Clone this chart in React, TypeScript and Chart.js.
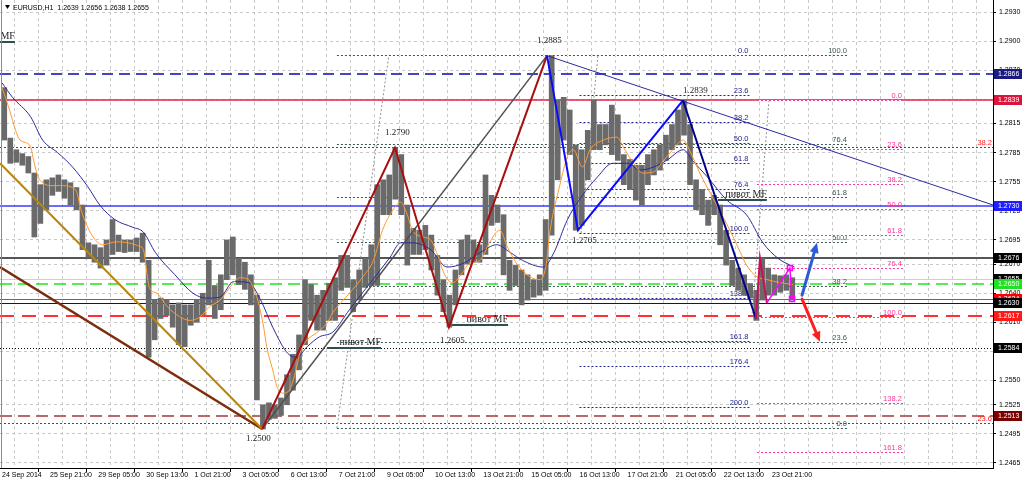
import React, { useEffect, useRef } from "react";
import { Chart, registerables } from "chart.js";

Chart.register(...registerables);

const SANS = "'Liberation Sans', Arial, sans-serif";
const SERIF = "'Liberation Serif', 'DejaVu Serif', serif";

const headerText = "EURUSD,H1  1.2639 1.2656 1.2638 1.2655";

// time axis (bar index; one bar = 1 hour)
const xTickLabels = [
  "24 Sep 2014", "25 Sep 21:00", "29 Sep 05:00", "30 Sep 13:00", "1 Oct 21:00", "3 Oct 05:00",
  "6 Oct 13:00", "7 Oct 21:00", "9 Oct 05:00", "10 Oct 13:00", "13 Oct 21:00", "15 Oct 05:00",
  "16 Oct 13:00", "17 Oct 21:00", "21 Oct 05:00", "22 Oct 13:00", "23 Oct 21:00",
];
const xGridStep = 16;
const xGridCount = 42;
const X_MIN = -1.33;
const X_MAX = 658.96;

// price axis
const yTickValues = [
  1.293, 1.29, 1.287, 1.284, 1.2815, 1.2785, 1.2755, 1.2725, 1.2695, 1.267, 1.264, 1.261,
  1.258, 1.255, 1.2525, 1.2495, 1.2465,
];
const Y_MIN = 1.24598;
const Y_MAX = 1.29424;

// price bars, 4-hour groups (high / low)
const barHigh = [
  1.2852, 1.28, 1.2788, 1.2784, 1.2781, 1.2764, 1.2752, 1.2757, 1.2759, 1.2762,
  1.2757, 1.2754, 1.2749, 1.2731, 1.2692, 1.269, 1.2687, 1.2695, 1.2716, 1.27,
  1.2695, 1.2695, 1.2697, 1.2702, 1.2674, 1.2633, 1.2635, 1.2633, 1.2628, 1.263,
  1.2628, 1.2628, 1.2633, 1.264, 1.2674, 1.2648, 1.2659, 1.2695, 1.2698, 1.2676,
  1.2672, 1.2659, 1.2638, 1.2525, 1.2527, 1.2525, 1.2532, 1.2556, 1.2577, 1.2597,
  1.2654, 1.2649, 1.2638, 1.2643, 1.265, 1.2656, 1.2679, 1.2679, 1.2654, 1.2664,
  1.2676, 1.269, 1.2752, 1.2757, 1.2762, 1.279, 1.2783, 1.2731, 1.2707, 1.2705,
  1.271, 1.27, 1.2679, 1.2654, 1.2638, 1.2664, 1.2695, 1.27, 1.2695, 1.269,
  1.2762, 1.2741, 1.2731, 1.2721, 1.2674, 1.2669, 1.2664, 1.2659, 1.2654, 1.2659,
  1.2716, 1.2885, 1.2839, 1.2842, 1.2829, 1.2793, 1.2788, 1.2808, 1.2839, 1.2814,
  1.2814, 1.2834, 1.2824, 1.2783, 1.2778, 1.2772, 1.2772, 1.2783, 1.2788, 1.2793,
  1.2803, 1.2814, 1.2829, 1.2839, 1.2814, 1.2757, 1.2747, 1.2736, 1.2741, 1.2731,
  1.2705, 1.2674, 1.2666, 1.2659, 1.265, 1.2643, 1.2676, 1.2666, 1.2659, 1.2658,
  1.2659, 1.2656,
];
const barLow = [
  1.2798, 1.2774, 1.2775, 1.2772, 1.2764, 1.2698, 1.2712, 1.2726, 1.2741, 1.2745,
  1.2738, 1.2731, 1.2726, 1.2685, 1.2677, 1.2672, 1.2666, 1.2669, 1.268, 1.2683,
  1.2682, 1.2683, 1.2683, 1.2672, 1.2574, 1.2592, 1.2614, 1.2617, 1.2605, 1.2587,
  1.2585, 1.2607, 1.261, 1.2618, 1.2628, 1.2614, 1.2623, 1.2654, 1.2659, 1.2649,
  1.2644, 1.2628, 1.253, 1.25, 1.251, 1.2511, 1.2514, 1.2525, 1.254, 1.2561,
  1.2587, 1.2612, 1.2602, 1.2602, 1.2612, 1.2612, 1.2643, 1.2646, 1.2621, 1.2633,
  1.2646, 1.2648, 1.2648, 1.2721, 1.2721, 1.2737, 1.2721, 1.2669, 1.268, 1.268,
  1.2685, 1.2664, 1.2638, 1.2621, 1.2605, 1.2628, 1.2659, 1.267, 1.2672, 1.2672,
  1.268, 1.271, 1.2713, 1.2659, 1.2643, 1.2648, 1.2628, 1.2633, 1.2636, 1.2638,
  1.2643, 1.27, 1.2757, 1.2798, 1.2783, 1.2705, 1.271, 1.2757, 1.2788, 1.2788,
  1.2793, 1.2783, 1.2777, 1.2752, 1.2747, 1.2736, 1.2731, 1.2752, 1.2762, 1.2767,
  1.2777, 1.2788, 1.2793, 1.2803, 1.2752, 1.2726, 1.2721, 1.271, 1.2721, 1.269,
  1.2669, 1.2648, 1.2643, 1.2638, 1.2635, 1.2612, 1.2633, 1.2638, 1.2638, 1.2641,
  1.2643, 1.2633,
];
const barsPerGroup = 4;

// moving averages
const fastMaIdx = [0, 5, 9, 12, 19, 21, 24, 27, 32, 39, 47, 50, 52, 57, 61, 67, 76, 92, 94, 98, 103, 110, 118, 125, 132, 138, 145, 154, 158, 164, 167, 170, 174, 176, 180, 183, 187, 191, 195, 198, 203, 209, 216, 220, 231, 240, 247, 253, 260, 265, 269, 273, 280, 285, 289, 295, 300, 306, 311, 318, 324, 331, 336, 342, 351, 358, 362, 364, 371, 376, 380, 386, 391, 400, 409, 413, 420, 426, 433, 440, 446, 453, 457, 464, 471, 477, 484, 491, 495, 502, 509, 517, 526];
const fastMaVal = [1.2852, 1.2829, 1.2808, 1.2798, 1.2791, 1.2777, 1.276, 1.2754, 1.2751, 1.2751, 1.2749, 1.2743, 1.2729, 1.2708, 1.2697, 1.269, 1.2693, 1.2688, 1.2685, 1.2646, 1.264, 1.2626, 1.2616, 1.2612, 1.2616, 1.2626, 1.2633, 1.2651, 1.2656, 1.2654, 1.2646, 1.2633, 1.2605, 1.2585, 1.2561, 1.2543, 1.2537, 1.254, 1.2558, 1.2578, 1.2592, 1.2599, 1.2609, 1.262, 1.264, 1.2657, 1.2674, 1.2705, 1.2726, 1.2734, 1.2723, 1.2705, 1.2698, 1.2695, 1.2682, 1.2657, 1.2651, 1.2661, 1.2671, 1.2674, 1.2692, 1.2705, 1.2688, 1.2671, 1.2657, 1.2654, 1.2671, 1.27, 1.2752, 1.2781, 1.2788, 1.277, 1.2788, 1.2798, 1.2801, 1.2791, 1.2774, 1.2764, 1.2765, 1.2777, 1.2788, 1.2798, 1.2788, 1.2764, 1.2743, 1.2726, 1.2705, 1.2682, 1.2669, 1.2657, 1.2654, 1.2651, 1.2649];
const slowMaIdx = [0, 7, 19, 27, 37, 47, 57, 65, 75, 87, 94, 102, 115, 127, 136, 145, 154, 164, 172, 180, 190, 196, 203, 211, 220, 231, 245, 258, 265, 273, 285, 296, 307, 318, 329, 338, 346, 360, 367, 376, 385, 396, 406, 416, 424, 433, 442, 453, 459, 469, 482, 495, 506, 516, 524, 527];
const slowMaVal = [1.2857, 1.2842, 1.2822, 1.2798, 1.2785, 1.277, 1.275, 1.2731, 1.2716, 1.2708, 1.2703, 1.2682, 1.2659, 1.264, 1.2635, 1.2636, 1.2652, 1.2651, 1.2633, 1.2605, 1.2578, 1.2574, 1.2585, 1.2595, 1.26, 1.2623, 1.2651, 1.2677, 1.2692, 1.2692, 1.2685, 1.2667, 1.2671, 1.2682, 1.269, 1.2682, 1.2674, 1.2667, 1.2682, 1.2716, 1.2739, 1.276, 1.2774, 1.2774, 1.2767, 1.277, 1.2777, 1.2788, 1.2777, 1.276, 1.2736, 1.2721, 1.2692, 1.2676, 1.2669, 1.2667];

// zigzag / trend lines (bar index, price)
const goldLineIdx = [-1.33, 173];
const goldLineVal = [1.2774, 1.25];
const brownLineIdx = [-1.33, 173];
const brownLineVal = [1.2667, 1.25];
const redZigIdx = [173, 261.3, 297.2, 362.4];
const redZigVal = [1.25, 1.279, 1.2605, 1.2885];
const grayLineIdx = [173, 362.4];
const grayLineVal = [1.25, 1.2885];
const blueZigIdx = [362.4, 383.0, 452.8];
const blueZigVal = [1.2885, 1.2705, 1.2839];
const navyZigIdx = [452.8, 501.3];
const navyZigVal = [1.2839, 1.2614];
const trendIdx = [362.4, 659];
const trendVal = [1.2885, 1.2731];
const crimsonZigIdx = [501.3, 504.0, 508.6];
const crimsonZigVal = [1.2614, 1.2676, 1.263];
const magentaZigIdx = [508.6, 523.9, 525.3];
const magentaZigVal = [1.263, 1.2666, 1.2634];

// horizontal levels
const hLevels = [1.2866, 1.2839, 1.273, 1.2676, 1.2655, 1.265, 1.2634, 1.263, 1.2617, 1.2584, 1.2513];
const hLineColors = ["#4444c4", "#e0204a", "#3a3aff", "#555555", "#cfcfcf", "#1ee61e", "#ff2a2a", "#1a1a1a", "#ff3030", "#000000", "#b86a6a"];
const hLineWidths = [2, 1.5, 1.5, 2, 1, 1.5, 1, 1, 2, 1, 2];
const hLineDash = [[11, 6], [], [], [], [], [12, 6], [], [], [14, 8], [1, 2], [12, 6]];
const hLabelBg = ["#1a1a80", "#dc143c", "#1e1eff", "#000000", "#000000", "#22e022", "#ff0000", "#000000", "#ff1a1a", "#000000", "#7a0000"];

// red fibo levels running across the chart
const redFibLabels = ["38.2", "23.6"];
const redFibVals = [1.2791, 1.2506];

// navy fibo
const navyFibLabels = ["0.0", "23.6", "38.2", "50.0", "61.8", "76.4", "100.0", "138.2", "161.8", "176.4", "200.0"];
const navyFibVals = [1.2886, 1.2844, 1.2817, 1.2795, 1.2774, 1.2748, 1.2702, 1.2635, 1.2591, 1.2565, 1.2523];
const navyFibSpan = [384, 497];
const navyFibBase = [[385, 1.2702], [396.3, 1.2886]];

// gray fibo
const grayFibLabels = ["0.0", "23.6", "38.2", "50.0", "61.8", "76.4", "100.0"];
const grayFibVals = [1.2501, 1.259, 1.2647, 1.2693, 1.2739, 1.2794, 1.2886];
const grayFibSpan = [222.7, 562.5];
const grayFibBase = [[222.7, 1.2501], [257.3, 1.2886]];

// pink fibo
const pinkFibLabels = ["0.0", "23.6", "38.2", "50.0", "61.8", "76.4", "100.0", "138.2", "161.8"];
const pinkFibVals = [1.2839, 1.2789, 1.2753, 1.2727, 1.27, 1.2666, 1.2616, 1.2527, 1.2476];
const pinkFibSpan = [502, 599];
const pinkFibBase = [[510, 1.2839], [498.7, 1.2616]];

// "пивот MF" markers
const pivotText = "пивот MF";
const pivotStartIdx = [-30, 216.1, 296.5, 476.1];
const pivotEndIdx = [8.6, 252.0, 336.5, 508.6];
const pivotVal = [1.2899, 1.2584, 1.2607, 1.2736];

// swing price texts
const swingTexts = ["1.2885", "1.2839", "1.2790", "1.2705", "1.2605", "1.2500"];
const swingIdx = [355.7, 452.8, 254.7, 379.0, 291.2, 162.2];
const swingVal = [1.2898, 1.2846, 1.2803, 1.2692, 1.2589, 1.2488];

// arrows
const arrowTailIdx = [532, 532];
const arrowTailVal = [1.2638, 1.2634];
const arrowTipIdx = [541.9, 543.9];
const arrowTipVal = [1.2692, 1.259];
const arrowColors = ["#2d5bd6", "#ff1f1f"];

function pts(idx: number[], vals: number[]) {
  return idx.map((x, k) => ({ x, y: vals[k] }));
}

function hl(ctx: CanvasRenderingContext2D, x1: number, x2: number, y: number, color: string, width: number, dash: number[], backing: boolean) {
  const yy = Math.round(width) % 2 === 1 ? Math.round(y) + 0.5 : Math.round(y);
  if (backing) {
    ctx.setLineDash([]);
    ctx.strokeStyle = "#ffffff";
    ctx.lineWidth = width;
    ctx.beginPath();
    ctx.moveTo(x1, yy);
    ctx.lineTo(x2, yy);
    ctx.stroke();
  }
  ctx.setLineDash(dash);
  ctx.strokeStyle = color;
  ctx.lineWidth = width;
  ctx.beginPath();
  ctx.moveTo(x1, yy);
  ctx.lineTo(x2, yy);
  ctx.stroke();
  ctx.setLineDash([]);
}

const objectsPlugin = {
  id: "mt4objects",
  beforeDatasetsDraw(chart: any) {
    const { ctx, chartArea: a } = chart;
    const X = (v: number) => chart.scales.x.getPixelForValue(v);
    const Y = (v: number) => chart.scales.y.getPixelForValue(v);
    ctx.save();
    ctx.beginPath();
    ctx.rect(a.left, a.top, a.right - a.left, a.bottom - a.top);
    ctx.clip();

    hLevels.forEach((v, k) => hl(ctx, a.left, a.right, Y(v), hLineColors[k], hLineWidths[k], hLineDash[k], false));
    ctx.font = `7.5px ${SANS}`;
    redFibVals.forEach((v, k) => {
      hl(ctx, a.left, a.right, Y(v), "#ff0000", 1, [2, 2], false);
      ctx.fillStyle = "#ff2020";
      ctx.textAlign = "right";
      ctx.fillText(redFibLabels[k], a.right - 1, Y(v) - 2);
    });

    const fib = (labels: string[], vals: number[], span: number[], base: number[][], color: string) => {
      const x1 = X(span[0]);
      const x2 = X(span[1]);
      ctx.strokeStyle = "#909090";
      ctx.lineWidth = 1;
      ctx.setLineDash([2, 2]);
      ctx.beginPath();
      ctx.moveTo(X(base[0][0]), Y(base[0][1]));
      ctx.lineTo(X(base[1][0]), Y(base[1][1]));
      ctx.stroke();
      ctx.setLineDash([]);
      vals.forEach((v, k) => {
        hl(ctx, x1, x2, Y(v), color, 1, [2, 2], true);
        ctx.fillStyle = color;
        ctx.textAlign = "right";
        ctx.font = `7.5px ${SANS}`;
        ctx.fillText(labels[k], x2 - 1, Y(v) - 2);
      });
    };
    fib(navyFibLabels, navyFibVals, navyFibSpan, navyFibBase, "#22228c");
    fib(grayFibLabels, grayFibVals, grayFibSpan, grayFibBase, "#3d5656");
    fib(pinkFibLabels, pinkFibVals, pinkFibSpan, pinkFibBase, "#ff3399");

    pivotVal.forEach((v, k) => {
      const y = Math.round(Y(v));
      const x1 = X(pivotStartIdx[k]);
      const x2 = X(pivotEndIdx[k]);
      ctx.strokeStyle = "#2f4f4f";
      ctx.lineWidth = 2;
      ctx.beginPath();
      ctx.moveTo(x1, y);
      ctx.lineTo(x2, y);
      ctx.stroke();
      ctx.fillStyle = "#1e1e1e";
      ctx.textAlign = "right";
      ctx.font = `10px ${SERIF}`;
      ctx.fillText(pivotText, x2, y - 3);
    });
    ctx.restore();
  },
  afterDatasetsDraw(chart: any) {
    const { ctx, chartArea: a } = chart;
    const X = (v: number) => chart.scales.x.getPixelForValue(v);
    const Y = (v: number) => chart.scales.y.getPixelForValue(v);
    ctx.save();
    ctx.beginPath();
    ctx.rect(a.left, a.top, a.right - a.left, a.bottom - a.top);
    ctx.clip();
    ctx.font = `9px ${SERIF}`;
    ctx.fillStyle = "#222222";
    ctx.textAlign = "left";
    swingTexts.forEach((t, k) => ctx.fillText(t, X(swingIdx[k]), Y(swingVal[k])));

    arrowTailIdx.forEach((_, k) => {
      const x1 = X(arrowTailIdx[k]);
      const y1 = Y(arrowTailVal[k]);
      const x2 = X(arrowTipIdx[k]);
      const y2 = Y(arrowTipVal[k]);
      const ang = Math.atan2(y2 - y1, x2 - x1);
      const head = 10;
      const hw = 4.5;
      const c = Math.cos(ang);
      const s = Math.sin(ang);
      ctx.strokeStyle = arrowColors[k];
      ctx.fillStyle = arrowColors[k];
      ctx.lineWidth = 3;
      ctx.lineCap = "round";
      ctx.beginPath();
      ctx.moveTo(x1, y1);
      ctx.lineTo(x2 - head * 0.7 * c, y2 - head * 0.7 * s);
      ctx.stroke();
      ctx.beginPath();
      ctx.moveTo(x2, y2);
      ctx.lineTo(x2 - head * c + hw * s, y2 - head * s - hw * c);
      ctx.lineTo(x2 - head * c - hw * s, y2 - head * s + hw * c);
      ctx.closePath();
      ctx.fill();
    });
    ctx.restore();
  },
  afterDraw(chart: any) {
    const { ctx, chartArea: a } = chart;
    const Y = (v: number) => chart.scales.y.getPixelForValue(v);
    ctx.save();
    ctx.strokeStyle = "#8c8c8c";
    ctx.lineWidth = 1;
    ctx.beginPath();
    ctx.moveTo(1.5, a.top);
    ctx.lineTo(1.5, a.bottom);
    ctx.stroke();
    ctx.font = `7px ${SANS}`;
    ctx.textBaseline = "middle";
    ctx.textAlign = "left";
    hLevels.forEach((v, k) => {
      const y = Math.round(Y(v));
      ctx.fillStyle = hLabelBg[k];
      ctx.fillRect(a.right + 1, y - 5, 28, 10);
      ctx.fillStyle = "#ffffff";
      ctx.fillText(v.toFixed(4), a.right + 5, y + 0.5);
    });
    ctx.fillStyle = "#000000";
    ctx.beginPath();
    ctx.moveTo(5, 5);
    ctx.lineTo(10, 5);
    ctx.lineTo(7.5, 9);
    ctx.closePath();
    ctx.fill();
    ctx.textBaseline = "alphabetic";
    ctx.font = `7px ${SANS}`;
    ctx.fillText(headerText, 13, 10);
    ctx.restore();
  },
};

export default function App() {
  const ref = useRef<HTMLCanvasElement | null>(null);
  useEffect(() => {
    document.body.style.margin = "0";
    const canvas = ref.current;
    if (!canvas) return;
    const lineDs = (idx: number[], vals: number[], color: string, width: number, order: number, extra: any = {}) => ({
      type: "line",
      data: pts(idx, vals),
      borderColor: color,
      backgroundColor: color,
      borderWidth: width,
      pointRadius: 0,
      tension: 0,
      fill: false,
      order,
      ...extra,
    });
    const chart = new Chart(canvas, {
      type: "bar",
      data: {
        datasets: [
          {
            type: "bar",
            data: barHigh.map((h, g) => ({ x: g * barsPerGroup + 1.5, y: [barLow[g], h] })),
            backgroundColor: "#6a6a6a",
            borderWidth: 0,
            barThickness: 5,
            order: 20,
          } as any,
          lineDs(slowMaIdx, slowMaVal, "#2b2b9e", 1, 15, { cubicInterpolationMode: "monotone" }),
          lineDs(fastMaIdx, fastMaVal, "#ff9a2e", 1, 14, { cubicInterpolationMode: "monotone" }),
          lineDs(goldLineIdx, goldLineVal, "#b8860b", 2, 9),
          lineDs(brownLineIdx, brownLineVal, "#7a2e0e", 2.5, 9),
          lineDs(grayLineIdx, grayLineVal, "#505050", 1.5, 8),
          lineDs(redZigIdx, redZigVal, "#a80f0f", 2, 7),
          lineDs(trendIdx, trendVal, "#2a2aa8", 1, 6),
          lineDs(blueZigIdx, blueZigVal, "#0a0aff", 2, 5),
          lineDs(navyZigIdx, navyZigVal, "#00008b", 2, 4),
          lineDs(crimsonZigIdx, crimsonZigVal, "#c8105a", 2, 3),
          lineDs(magentaZigIdx, magentaZigVal, "#ff00ff", 1.5, 2, {
            pointRadius: [0, 3.5, 3.5],
            pointStyle: "rect",
            pointBorderColor: "#ff00ff",
            pointBackgroundColor: "rgba(0,0,0,0)",
            pointBorderWidth: 1.5,
          }),
        ] as any,
      },
      options: {
        responsive: false,
        maintainAspectRatio: false,
        animation: false,
        events: [],
        layout: { padding: 0, autoPadding: false } as any,
        plugins: { legend: { display: false }, tooltip: { enabled: false }, title: { display: false } },
        scales: {
          x: {
            type: "linear",
            min: X_MIN,
            max: X_MAX,
            offset: false,
            afterBuildTicks: (s: any) => {
              s.ticks = Array.from({ length: xGridCount }, (_, k) => ({ value: k * xGridStep }));
            },
            afterFit: (s: any) => {
              s.height = 14;
              s.paddingLeft = 0;
              s.paddingRight = 0;
            },
            ticks: {
              autoSkip: false,
              maxRotation: 0,
              minRotation: 0,
              align: "start",
              padding: -1,
              color: "#000000",
              font: { family: SANS, size: 7 },
              callback: (v: any) => {
                const k = Number(v) / (xGridStep * 2);
                return Number.isInteger(k) && k < xTickLabels.length ? xTickLabels[k] : "";
              },
            },
            grid: {
              color: "#c8c8c8",
              lineWidth: 1,
              tickLength: 4,
              tickColor: (c: any) => {
                const v = c.tick ? c.tick.value : -1;
                return v % (xGridStep * 2) === 0 && v / (xGridStep * 2) < xTickLabels.length ? "#000000" : "rgba(0,0,0,0)";
              },
            },
            border: { display: true, color: "#000000", width: 1, dash: [3, 3] },
          } as any,
          y: {
            type: "linear",
            position: "right",
            min: Y_MIN,
            max: Y_MAX,
            afterBuildTicks: (s: any) => {
              s.ticks = yTickValues.map((v) => ({ value: v }));
            },
            afterFit: (s: any) => {
              s.width = 31;
              s.paddingTop = 0;
              s.paddingBottom = 0;
            },
            ticks: {
              autoSkip: false,
              padding: 3,
              color: "#000000",
              font: { family: SANS, size: 7 },
              callback: (v: any) => Number(v).toFixed(4),
            },
            grid: { color: "#c8c8c8", lineWidth: 1, tickLength: 3, tickColor: "#000000" },
            border: { display: true, color: "#000000", width: 1, dash: [3, 3] },
          } as any,
        },
      },
      plugins: [objectsPlugin as any],
    });
    return () => chart.destroy();
  }, []);
  return (
    <div style={{ width: 1024, height: 482, background: "#ffffff" }}>
      <canvas ref={ref} width={1024} height={482} style={{ display: "block" }} />
    </div>
  );
}
